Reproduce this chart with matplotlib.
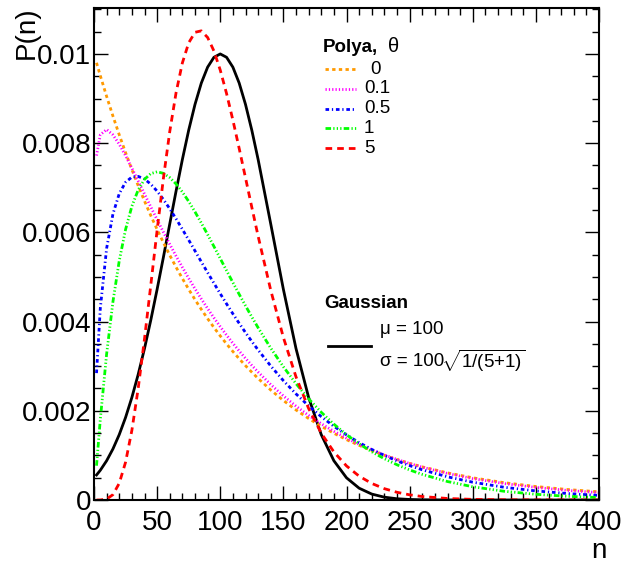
import matplotlib
matplotlib.use("Agg")
import matplotlib.pyplot as plt
from matplotlib.lines import Line2D
from matplotlib.ticker import MultipleLocator, FixedLocator

plt.rcParams['font.family'] = ['Liberation Sans', 'DejaVu Sans']
plt.rcParams['mathtext.fontset'] = 'custom'
plt.rcParams['mathtext.rm'] = 'Liberation Sans'
plt.rcParams['mathtext.it'] = 'Liberation Sans:italic'
plt.rcParams['mathtext.bf'] = 'Liberation Sans:bold'

# sample points n
n = [2, 5, 10, 15, 20, 25, 30, 35, 40, 45, 50, 55, 60, 65, 70, 75, 80, 85, 90, 95,
     100, 105, 110, 115, 120, 125, 130, 140, 150, 160, 170, 180, 190, 200,
     210, 220, 230, 240, 250, 260, 280, 300, 325, 350, 375, 400]

# P(n) in units of 0.01
polya_0 = [0.9802, 0.9512, 0.9048, 0.8607, 0.8187, 0.7788, 0.7408, 0.7047, 0.6703, 0.6376,
           0.6065, 0.5769, 0.5488, 0.5220, 0.4966, 0.4724, 0.4493, 0.4274, 0.4066, 0.3867,
           0.3679, 0.3499, 0.3329, 0.3166, 0.3012, 0.2865, 0.2725, 0.2466, 0.2231, 0.2019,
           0.1827, 0.1653, 0.1496, 0.1353, 0.1225, 0.1108, 0.1003, 0.0907, 0.0821, 0.0743,
           0.0608, 0.0498, 0.0388, 0.0302, 0.0235, 0.0183]
polya_01 = [0.7721, 0.8188, 0.8306, 0.8187, 0.7975, 0.7720, 0.7440, 0.7151, 0.6859, 0.6570,
            0.6283, 0.6005, 0.5733, 0.5470, 0.5216, 0.4970, 0.4735, 0.4509, 0.4292, 0.4084,
            0.3886, 0.3696, 0.3514, 0.3341, 0.3175, 0.3018, 0.2868, 0.2588, 0.2334, 0.2104,
            0.1897, 0.1710, 0.1540, 0.1386, 0.1248, 0.1123, 0.1011, 0.0909, 0.0818, 0.0736,
            0.0595, 0.0480, 0.0368, 0.0282, 0.0215, 0.0165]
polya_05 = [0.2845, 0.4300, 0.5642, 0.6411, 0.6868, 0.7124, 0.7239, 0.7255, 0.7196, 0.7081,
            0.6924, 0.6737, 0.6529, 0.6304, 0.6069, 0.5829, 0.5585, 0.5340, 0.5098, 0.4860,
            0.4625, 0.4397, 0.4175, 0.3961, 0.3754, 0.3555, 0.3363, 0.3005, 0.2676, 0.2379,
            0.2110, 0.1869, 0.1653, 0.1460, 0.1287, 0.1134, 0.0998, 0.0877, 0.0771, 0.0677,
            0.0520, 0.0399, 0.0285, 0.0204, 0.0145, 0.0103]
polya_1 = [0.0769, 0.1810, 0.3275, 0.4445, 0.5363, 0.6065, 0.6586, 0.6952, 0.7189, 0.7318,
           0.7358, 0.7323, 0.7229, 0.7086, 0.6905, 0.6694, 0.6460, 0.6211, 0.5951, 0.5684,
           0.5413, 0.5143, 0.4876, 0.4612, 0.4355, 0.4104, 0.3862, 0.3405, 0.2987, 0.2609,
           0.2269, 0.1967, 0.1700, 0.1465, 0.1260, 0.1081, 0.0925, 0.0790, 0.0674, 0.0574,
           0.0414, 0.0297, 0.0195, 0.0128, 0.0083, 0.0054]
polya_5 = [0.0000, 0.0001, 0.0021, 0.0120, 0.0375, 0.0847, 0.1562, 0.2501, 0.3612, 0.4822,
           0.6049, 0.7217, 0.8260, 0.9131, 0.9799, 1.0249, 1.0485, 1.0518, 1.0369, 1.0066,
           0.9638, 0.9112, 0.8518, 0.7881, 0.7223, 0.6562, 0.5915, 0.4702, 0.3644, 0.2761,
           0.2052, 0.1499, 0.1078, 0.0764, 0.0535, 0.0371, 0.0254, 0.0173, 0.0116, 0.0078,
           0.0034, 0.0014, 0.0005, 0.0002, 0.0000, 0.0000]
gauss = [0.0561, 0.0667, 0.0880, 0.1145, 0.1466, 0.1850, 0.2299, 0.2815, 0.3396, 0.4035,
         0.4724, 0.5447, 0.6188, 0.6925, 0.7634, 0.8290, 0.8869, 0.9347, 0.9704, 0.9925,
         1.0000, 0.9925, 0.9704, 0.9347, 0.8869, 0.8290, 0.7634, 0.6188, 0.4724, 0.3396,
         0.2299, 0.1466, 0.0880, 0.0498, 0.0265, 0.0133, 0.0063, 0.0028, 0.0012, 0.0005,
         0.0001, 0.0000, 0.0000, 0.0000, 0.0000, 0.0000]

thetas = ['0', '0.1', '0.5', '1', '5']
series = [polya_0, polya_01, polya_05, polya_1, polya_5]
colors = ['#FF9900', '#FF00FF', '#0000FF', '#00FF00', '#FF0000']
dashes = [(1.2, 1.2), (0.45, 0.75), (1.3, 1.0, 0.45, 1.0),
          (2.0, 0.8, 0.45, 0.8, 0.45, 0.8, 0.45, 0.8), (2.4, 1.8)]

W, H = 623, 565
fig = plt.figure(figsize=(W / 100, H / 100), dpi=100)
ax = fig.add_axes([94 / W, 1 - 500 / H, (599 - 94) / W, (500 - 8) / H])

ax.plot(n, [v * 0.01 for v in gauss], color='black', lw=2.0)
for ys, c, d in zip(series, colors, dashes):
    ax.plot(n, [v * 0.01 for v in ys], color=c, lw=2.0, dashes=d)

ax.set_xlim(0, 400)
ax.set_ylim(0, 0.01103)
ax.xaxis.set_major_locator(MultipleLocator(50))
ax.xaxis.set_minor_locator(MultipleLocator(10))
ax.yaxis.set_major_locator(FixedLocator([0, 0.002, 0.004, 0.006, 0.008, 0.01]))
ax.yaxis.set_minor_locator(MultipleLocator(0.0005))
ax.set_yticklabels(['0', '0.002', '0.004', '0.006', '0.008', '0.01'])
ax.tick_params(which='both', direction='in', top=True, right=True, width=1.0)
ax.tick_params(which='major', length=10, labelsize=20)
ax.tick_params(axis='x', which='major', pad=7)
ax.tick_params(axis='y', which='major', pad=2)
ax.tick_params(which='minor', length=5)
for s in ax.spines.values():
    s.set_linewidth(1.5)

fig.text(27 / W, 1 - 6 / H, 'P(n)', rotation=90, ha='center', va='top', fontsize=20)
fig.text(599 / W, 1 - 551 / H, 'n', ha='center', va='center', fontsize=20)

# Polya legend
fs = 13.5
fig.text(323 / W, 1 - 47 / H, 'Polya,', ha='left', va='center', fontsize=fs, fontweight='bold')
fig.text(388 / W, 1 - 47 / H, 'θ', ha='left', va='center', fontsize=fs + 1)
for i, (lab, c, d) in enumerate(zip(thetas, colors, dashes)):
    y = 1 - (69 + 19.8 * i) / H
    fig.add_artist(Line2D([325 / W, 356 / W], [y, y], color=c, lw=2.0, dashes=d))
    fig.text((370 if lab == '0' else 364) / W, y, lab, ha='left', va='center', fontsize=fs)

# Gaussian legend
fig.text(324 / W, 1 - 303 / H, 'Gaussian', ha='left', va='center', fontsize=fs, fontweight='bold')
fig.add_artist(Line2D([328 / W, 371 / W], [1 - 346 / H, 1 - 346 / H], color='black', lw=2.0))
fig.text(380 / W, 1 - 330 / H, 'μ = 100', ha='left', va='center', fontsize=fs)
sig = fig.text(380 / W, 1 - 361 / H, 'σ = 100', ha='left', va='center', fontsize=fs)
ax.annotate(r'$\sqrt{\mathrm{1/(5{+}1)}}$', xy=(1, 0.5), xycoords=sig,
            xytext=(-2, 0), textcoords='offset points',
            ha='left', va='center', fontsize=fs, annotation_clip=False)

fig.savefig('out.png', dpi=100)
